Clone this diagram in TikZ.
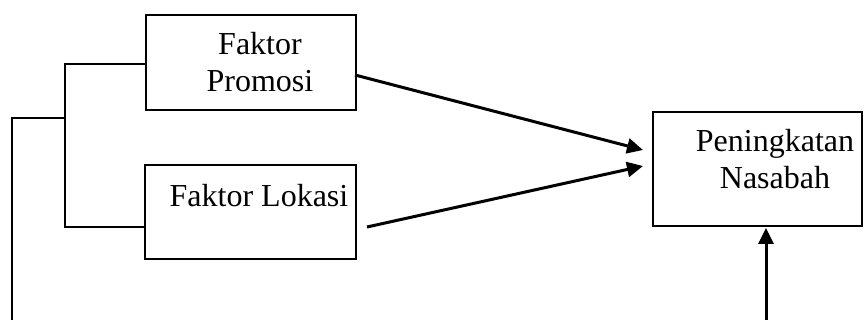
\documentclass[tikz,border=0pt]{standalone}
\usepackage{fontspec}
\setmainfont{Liberation Serif}
\usetikzlibrary{arrows.meta,calc}
\begin{document}
\begin{tikzpicture}[x=0.5pt,y=-0.5pt,
  box/.style={draw,line width=0.9pt,inner sep=0pt,outer sep=0pt},
  lbl/.style={font=\fontsize{16}{18.5}\selectfont,align=center,inner sep=0pt,anchor=base},
  wire/.style={line width=0.9pt},
  arrow/.style={line width=1.5pt,-{Triangle[length=8pt,width=7.5pt]}}]
\useasboundingbox (0,0) rectangle (864,320);
% boxes
\node[box,minimum width=105pt,minimum height=47.5pt] (promosi) at (251,62.5) {};
\node[box,minimum width=105.5pt,minimum height=47pt] (lokasi) at (250.5,212) {};
\node[box,minimum width=104.5pt,minimum height=57pt] (nasabah) at (757.5,169) {};
% labels (base anchor sits on the last line)
\node[lbl] (tpromosi) at (260,92) {Faktor\\Promosi};
\node[lbl] (tlokasi) at (259,207) {Faktor Lokasi};
\node[lbl] (tnasabah) at (775,189) {Peningkatan\\Nasabah};
% bracket joining the two factors
\coordinate (bt) at (65,64);
\coordinate (bb) at (65,227);
\coordinate (bm) at (65,118);
\coordinate (lt) at (12,118);
\coordinate (lb) at (12,322);
\draw[wire] (promosi.west |- bt) -- (bt) -- (bb) -- (lokasi.west |- bb);
\draw[wire] (bm) -- (lt) -- (lb);
% arrows into the outcome
\coordinate (a1s) at (355,75);
\coordinate (a1e) at (643,150);
\coordinate (a2s) at (367,227);
\coordinate (a2e) at (643,166);
\coordinate (a3s) at (766,322);
\draw[arrow] (a1s) -- (a1e);
\draw[arrow] (a2s) -- (a2e);
\draw[arrow] (a3s) -- ($(nasabah.south -| a3s)+(0,2)$);
\end{tikzpicture}
\end{document}
